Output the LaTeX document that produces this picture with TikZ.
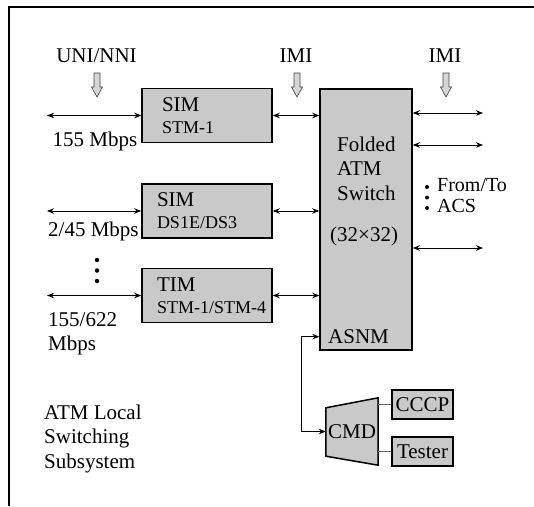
\documentclass[tikz,border=0pt]{standalone}
\usepackage{fontspec}
\setmainfont{Liberation Serif}
\usetikzlibrary{positioning,arrows.meta,backgrounds}
\definecolor{boxgray}{gray}{0.79}
\definecolor{feedgray}{gray}{0.84}
\newcommand{\subline}[1]{\mbox{\fontsize{18}{22}\selectfont #1}}

\begin{document}
\begin{tikzpicture}[x=1pt, y=-1pt,
  txt/.style={font=\fontsize{21}{24.6}\selectfont, inner sep=0},
  module/.style={draw, line width=1.5pt, fill=boxgray, align=left,
                 text width=100pt, inner xsep=15pt, inner ysep=0pt,
                 minimum height=54pt, font=\fontsize{21}{22}\selectfont},
  blk/.style={draw, line width=1.5pt, fill=boxgray, inner sep=0},
  link/.style={{Stealth[length=7pt,width=5.5pt]}-{Stealth[length=7pt,width=5.5pt]},
               line width=0.8pt},
  feed/.style={draw=black!75, fill=feedgray, line width=0.6pt},
  vdot/.style={circle, fill, inner sep=0, minimum size=4.5pt},
  tap/.style={draw=black!60, line width=0.9pt},
]
\useasboundingbox (0,0) rectangle (534,506);
\draw[line width=2pt] (9,506) -- (9,7) -- (534,7);

% interface labels
\node[txt, anchor=base] (uni)  at (96.5,62) {UNI/NNI};
\node[txt, anchor=base] (imi1) at (296,62)  {IMI};
\node[txt, anchor=base] (imi2) at (445,62)  {IMI};
\foreach \x in {97,297,446}
  \draw[feed] (\x-3,73) -- (\x+3,73) -- (\x+3,87) -- (\x+5.5,87) -- (\x,97)
              -- (\x-5.5,87) -- (\x-3,87) -- cycle;

% line modules
\node[module, inner xsep=20pt, text width=90pt] (sim1) at (207,115.5) {SIM\\\subline{STM-1}};
\node[module] (sim2) at (207,211) {SIM\\\subline{DS1E/DS3}};
\node[module] (tim)  at (207,295.5) {TIM\\\subline{STM-1/STM-4}};

% switch fabric
\node[blk, minimum width=92pt, minimum height=261pt] (sw) at (366,219.5) {};
\node[txt, anchor=north west, align=left] (swname) at (337,136.4) {Folded\\ATM\\Switch};
\node[txt, anchor=base west] (swsize) at (330,241) {(32×32)};
\node[txt, anchor=base west] (asnm) at (328,343.5) {ASNM};

% line rates
\coordinate (in1) at (47,0);
\draw[link] (in1 |- sim1) -- (sim1.west);
\draw[link] (in1 |- sim2) -- (sim2.west);
\draw[link] (in1 |- tim)  -- (tim.west);
\node[txt, anchor=base] (rate1) at (95,146) {155 Mbps};
\node[txt, anchor=base west] (rate2) at (48,236.5) {2/45 Mbps};
\node[txt, anchor=north west, align=left] (rate3) at (48,312) {155/622\\Mbps};
\foreach \y [count=\i] in {260,270.5,281}
  \node[vdot] (vd\i) at (97,\y) {};

% module <-> switch
\draw[link] (sim1.east) -- (sim1.east -| sw.west);
\draw[link] (sim2.east) -- (sim2.east -| sw.west);
\draw[link] (tim.east)  -- (tim.east -| sw.west);

% towards ACS
\coordinate (out1) at (483,113);
\coordinate (out2) at (483,145);
\coordinate (out3) at (483,248);
\draw[link] (sw.east |- out1) -- (out1);
\draw[link] (sw.east |- out2) -- (out2);
\draw[link] (sw.east |- out3) -- (out3);
\foreach \y [count=\i] in {187,197.5,208}
  \node[vdot, minimum size=4pt] (ad\i) at (427,\y) {};
\node[txt, anchor=north west, align=left, font=\fontsize{20}{21.3}\selectfont]
  (acs) at (437,178) {From/To\\ACS};

% control path
\node[txt, minimum width=52pt, minimum height=67pt] (cmd) at (352,431.5) {CMD};
\begin{scope}[on background layer]
  \draw[blk] ([yshift=-10pt]cmd.north west) -- (cmd.north east)
             -- (cmd.south east) -- ([yshift=9pt]cmd.south west) -- cycle;
\end{scope}
\node[blk, txt, minimum width=61pt, minimum height=29pt] (cccp)   at (422.5,404.5) {CCCP};
\node[blk, txt, minimum width=61pt, minimum height=29pt] (tester) at (422.5,451.5) {Tester};
\draw[link] (asnm.west -| sw.west) -- ++(-18,0) |- (cmd.west);
\draw[tap] (cmd.east |- cccp) -- (cccp);
\draw[tap] (cmd.east |- tester) -- (tester);

\node[txt, anchor=north west, align=left] (title) at (44,404.5)
  {ATM Local\\Switching\\Subsystem};
\end{tikzpicture}
\end{document}
